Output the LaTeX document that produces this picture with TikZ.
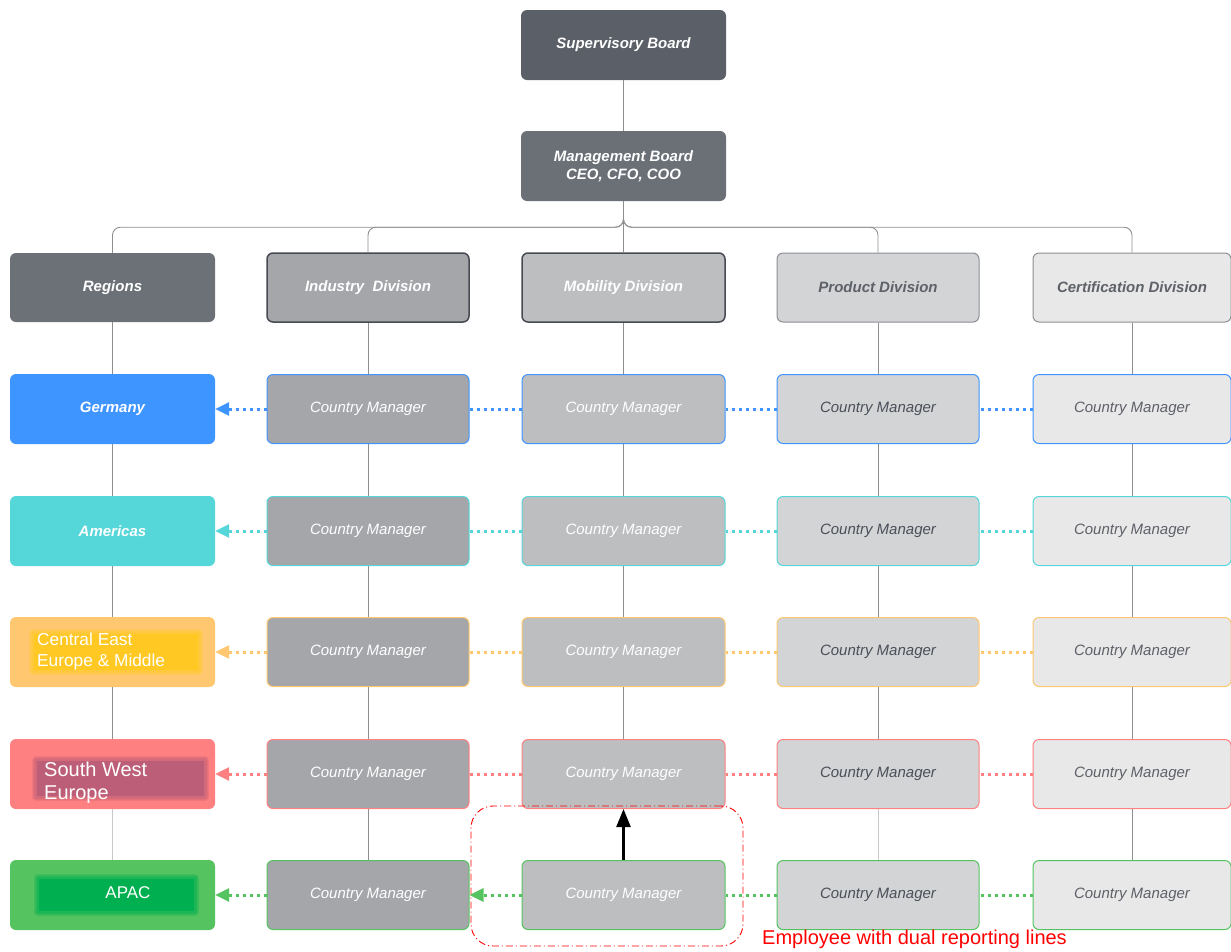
\documentclass[tikz,border=0pt]{standalone}
\usepackage{fontspec}
\setmainfont{Liberation Sans}
\usetikzlibrary{arrows.meta}

\definecolor{boardA}{HTML}{5B6068}
\definecolor{boardB}{HTML}{6B7077}
\definecolor{regHead}{HTML}{6C7178}
\definecolor{colInd}{HTML}{A5A6AA}
\definecolor{colMob}{HTML}{BDBEC0}
\definecolor{colPro}{HTML}{D3D4D6}
\definecolor{colCer}{HTML}{E8E8E9}
\definecolor{edgeDark}{HTML}{464A51}
\definecolor{edgeGray}{HTML}{8B8E93}
\definecolor{txtDark}{HTML}{4B4F58}
\definecolor{txtMid}{HTML}{5E6168}
\definecolor{linkGray}{HTML}{8E8E8E}
\definecolor{linkLight}{HTML}{C8C8C8}
\definecolor{rowA}{HTML}{3F95FF}
\definecolor{rowB}{HTML}{55D6D8}
\definecolor{rowC}{HTML}{FFC870}
\definecolor{rowD}{HTML}{FF8080}
\definecolor{rowE}{HTML}{55C460}
\definecolor{innerC}{HTML}{FFC822}
\definecolor{innerD}{HTML}{BD5E78}
\definecolor{innerE}{HTML}{00B050}
\definecolor{noteRed}{HTML}{FF0000}

\tikzset{
  card/.style={rectangle, rounded corners=6pt, minimum height=69pt, inner sep=0pt, align=center},
  headtext/.style={font=\bfseries\itshape\fontsize{15}{18}\selectfont},
  mgrbox/.style={card, font=\itshape\fontsize{15}{18}\selectfont, line width=1pt},
  whitelabel/.style={text=white, inner sep=0pt},
  treeline/.style={draw=linkGray, line width=0.9pt},
  dotline/.style={line width=3pt, dash pattern=on 3pt off 4pt},
  headtip/.style={-{Triangle[length=14pt,width=13pt]}},
}

% soft-edged highlight: colour, x1, y1, x2, y2
\newcommand{\softpatch}[5]{%
  \foreach \g in {4,3,2,1}
    \fill[#1, opacity=.22, rounded corners=\g pt] (#2-\g,#3-\g) rectangle (#4+\g,#5+\g);
  \fill[#1] (#2+1,#3+1) rectangle (#4-1,#5-1);
}

\begin{document}
\begin{tikzpicture}[x=1pt,y=-1pt]
\useasboundingbox (0,0) rectangle (1231,951);

% boards
\node[card, minimum width=205pt, minimum height=70pt, fill=boardA, text=white, headtext] (sup) at (623.5,45) {Supervisory Board};
\node[card, minimum width=205pt, minimum height=70pt, fill=boardB, text=white, headtext] (mgmt) at (623.5,166) {Management Board\\CEO, CFO, COO};

% column heads
\node[card, minimum width=205pt, fill=regHead, text=white, headtext] (regH) at (112.5,287.5) {Regions};
\node[card, minimum width=202pt, fill=colInd, draw=edgeDark, line width=1.5pt, text=white, headtext] (indH) at (368,287.5) {Industry~ Division};
\node[card, minimum width=203pt, fill=colMob, draw=edgeDark, line width=1.5pt, text=white, headtext] (mobH) at (623.5,287.5) {Mobility Division};
\node[card, minimum width=202pt, fill=colPro, draw=edgeGray, line width=1pt, text=txtMid, headtext] (proH) at (878,287.5) {Product Division};
\node[card, minimum width=198pt, fill=colCer, draw=edgeGray, line width=1pt, text=txtMid, headtext] (cerH) at (1132,287.5) {Certification Division};

% regions
\node[card, minimum width=205pt, minimum height=70pt, fill=rowA, text=white, headtext] (reg1) at (112.5,409) {Germany};
\node[card, minimum width=205pt, minimum height=70pt, fill=rowB, text=white, headtext] (reg2) at (112.5,531) {Americas};
\node[card, minimum width=205pt, minimum height=70pt, fill=rowC] (reg3) at (112.5,652) {};
\node[card, minimum width=205pt, minimum height=70pt, fill=rowD] (reg4) at (112.5,774) {};
\node[card, minimum width=205pt, minimum height=70pt, fill=rowE] (reg5) at (112.5,895) {};

% highlighted labels inside the region boxes
\softpatch{innerC}{33}{633}{199}{671}
\node[whitelabel, anchor=west, align=left, font=\fontsize{17.3}{21}\selectfont] (reg3t) at (37,652) {Central East\\Europe \& Middle};

\softpatch{innerD}{36}{760}{205}{797}
\begin{scope}
  \clip (30,748) rectangle (212,802);
  \node[whitelabel, anchor=west, align=left, font=\fontsize{20}{23}\selectfont] (reg4t) at (44,782.5) {South West\\Europe};
\end{scope}

\softpatch{innerE}{38}{878}{195}{912}
\node[whitelabel, font=\fontsize{17}{20}\selectfont] (reg5t) at (128,893) {APAC};

% country managers
\foreach \r/\y/\c in {1/409/rowA,2/531/rowB,3/652/rowC,4/774/rowD,5/895/rowE}{
  \node[mgrbox, minimum width=202pt, fill=colInd, draw=\c, text=white] (ind\r) at (368,\y) {Country Manager};
  \node[mgrbox, minimum width=203pt, fill=colMob, draw=\c, text=white] (mob\r) at (623.5,\y) {Country Manager};
  \node[mgrbox, minimum width=202pt, fill=colPro, draw=\c, text=txtDark] (pro\r) at (878,\y) {Country Manager};
  \node[mgrbox, minimum width=198pt, fill=colCer, draw=\c, text=txtMid] (cer\r) at (1132,\y) {Country Manager};
}

% reporting tree
\draw[treeline] (sup) -- (mgmt);
\draw[treeline] (mgmt.south) -- (mobH.north);
\foreach \h in {regH,indH,proH,cerH}
  \draw[treeline, rounded corners=8pt] (mgmt.south) -- ++(0,26) -| (\h.north);

\foreach \col in {reg,ind,mob,pro,cer}{
  \draw[treeline] (\col H.south) -- (\col1.north);
  \foreach \a/\b in {1/2,2/3,3/4}
    \draw[treeline] (\col\a.south) -- (\col\b.north);
}
\draw[treeline, draw=linkLight] (reg4.south) -- (reg5.north);
\draw[treeline] (ind4.south) -- (ind5.north);
\draw[treeline, draw=linkLight] (pro4.south) -- (pro5.north);
\draw[treeline] (cer4.south) -- (cer5.north);

% dotted lines to the regions
\foreach \r/\c in {1/rowA,2/rowB,3/rowC,4/rowD,5/rowE}{
  \draw[dotline, draw=\c, headtip] (ind\r.west) -- (reg\r.east);
  \draw[dotline, draw=\c] (pro\r.west) -- (mob\r.east);
  \draw[dotline, draw=\c] (cer\r.west) -- (pro\r.east);
}
\foreach \r/\c in {1/rowA,2/rowB,3/rowC,4/rowD}
  \draw[dotline, draw=\c] (mob\r.west) -- (ind\r.east);
\draw[dotline, draw=rowE, headtip] (mob5.west) -- (ind5.east);

% dual reporting
\draw[line width=2.4pt, -{Triangle[length=18pt,width=14pt]}] (mob5.north) -- (mob4.south);
\node[draw=noteRed, line width=0.9pt, dash pattern=on 7pt off 3pt on 1pt off 3pt,
      rounded corners=22pt, minimum width=272pt, minimum height=140pt] (dual) at (607,876) {};
\node[text=noteRed, font=\fontsize{20}{22}\selectfont, inner sep=0pt] (dualnote) at (914.5,939) {Employee with dual reporting lines};
\end{tikzpicture}
\end{document}
